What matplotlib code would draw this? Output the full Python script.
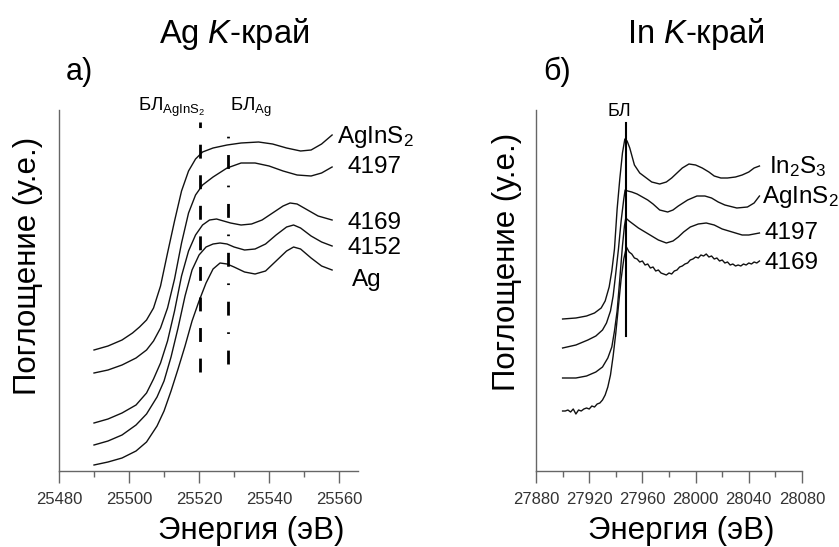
import numpy as np
import matplotlib
matplotlib.use("Agg")
import matplotlib.pyplot as plt

plt.rcParams["font.family"] = ["Liberation Sans", "DejaVu Sans"]
plt.rcParams["mathtext.fontset"] = "custom"
plt.rcParams["mathtext.rm"] = "Liberation Sans"
plt.rcParams["mathtext.it"] = "Liberation Sans:italic"
plt.rcParams["mathtext.bf"] = "Liberation Sans:bold"

# --- Ag K-edge (panel a), absorption in arbitrary units, curves offset ---
ag_agins2_x = [25490, 25494, 25498, 25501, 25503, 25505, 25507, 25509, 25511, 25513, 25515, 25517,
               25519, 25521, 25524, 25528, 25532, 25537, 25541, 25545, 25549, 25552, 25555, 25558]
ag_agins2_y = [121, 125, 131, 138, 144, 151, 163, 185, 218, 250, 280, 300,
               312, 319, 323, 326, 328, 329, 327, 323, 320, 321, 327, 336]

ag_4197_x = [25490, 25494, 25498, 25502, 25505, 25507, 25509, 25511, 25513, 25515, 25517, 25519,
             25521, 25524, 25528, 25532, 25536, 25540, 25544, 25548, 25552, 25555, 25558]
ag_4197_y = [98, 101, 106, 113, 121, 130, 143, 163, 192, 228, 258, 276,
             286, 294, 303, 308, 308, 305, 300, 296, 295, 298, 304]

ag_4169_x = [25490, 25494, 25498, 25502, 25505, 25507, 25509, 25511, 25513, 25515, 25517, 25519,
             25521, 25523, 25525, 25527, 25529, 25532, 25535, 25538, 25541, 25544, 25546, 25548,
             25551, 25554, 25558]
ag_4169_y = [48, 52, 58, 66, 78, 92, 108, 130, 160, 195, 220, 236,
             246, 251, 252, 250, 248, 246, 247, 251, 258, 265, 268, 267,
             261, 255, 251]

ag_4152_x = [25490, 25494, 25498, 25502, 25505, 25508, 25510, 25512, 25514, 25516, 25518, 25520,
             25522, 25524, 25526, 25528, 25530, 25533, 25536, 25539, 25542, 25545, 25547, 25549,
             25552, 25555, 25558]
ag_4152_y = [26, 30, 36, 46, 57, 74, 90, 114, 143, 175, 201, 216,
             224, 227, 228, 227, 224, 221, 222, 227, 236, 244, 246, 243,
             235, 229, 225]

ag_ag_x = [25490, 25494, 25498, 25502, 25505, 25508, 25510, 25512, 25514, 25516, 25518, 25520,
           25522, 25524, 25526, 25528, 25530, 25533, 25536, 25539, 25542, 25545, 25547, 25549,
           25552, 25555, 25558]
ag_ag_y = [6, 9, 13, 20, 29, 45, 60, 80, 102, 125, 150, 170,
           188, 202, 208, 207, 204, 199, 197, 200, 210, 220, 224, 222,
           213, 205, 201]

ag_curves = [
    (ag_agins2_x, ag_agins2_y, "AgInS$_2$"),
    (ag_4197_x, ag_4197_y, "4197"),
    (ag_4169_x, ag_4169_y, "4169"),
    (ag_4152_x, ag_4152_y, "4152"),
    (ag_ag_x, ag_ag_y, "Ag"),
]
ag_label_pos = [(25559.5, 334), (25562.3, 304), (25562.3, 248), (25562.3, 223), (25563.7, 191)]
ag_wl_agins2 = 25520.3
ag_wl_ag = 25528.3

# --- In K-edge (panel b) ---
in_in2s3_x = [27900, 27910, 27918, 27924, 27929, 27932, 27935, 27937, 27939, 27941, 27943, 27945,
              27946.8, 27948.5, 27950.5, 27954, 27958, 27962, 27967, 27973, 27978, 27982, 27986,
              27990, 27995, 28000, 28005, 28010, 28014, 28019, 28024, 28030, 28035, 28040, 28044,
              28048]
in_in2s3_y = [152, 153, 155, 158, 163, 170, 184, 200, 222, 262, 292, 318,
              332, 330, 323, 306, 298, 294, 289, 287, 289, 293, 298,
              303, 307, 306, 303, 299, 295, 293, 293, 294, 296, 299, 303,
              305]

in_agins2_x = [27900, 27910, 27919, 27925, 27930, 27933, 27936, 27938, 27940, 27942, 27944, 27946,
               27947, 27949, 27952, 27956, 27960, 27964, 27968, 27973, 27979, 27983, 27987, 27994,
               28001, 28007, 28012, 28017, 28022, 28031, 28039, 28044, 28048]
in_agins2_y = [123, 126, 131, 135, 141, 148, 160, 175, 198, 222, 250, 272,
               281, 280, 279, 277, 274, 271, 267, 261, 259, 261, 265, 271,
               275, 275, 273, 269, 266, 263, 264, 268, 275]

in_4197_x = [27900, 27910, 27918, 27925, 27930, 27934, 27937, 27939, 27941, 27943, 27945, 27946.5,
             27947.5, 27950, 27953, 27957, 27962, 27967, 27972, 27978, 27983, 27987, 27991, 27996,
             28002, 28008, 28014, 28020, 28025, 28030, 28035, 28040, 28044, 28048]
in_4197_y = [93, 93, 95, 99, 104, 113, 124, 140, 160, 192, 225, 245,
             253, 250, 247, 243, 239, 235, 231, 228, 230, 234, 239, 244,
             247, 248, 246, 242, 240, 238, 236, 236, 237, 238]

in_4169_x = list(range(27900, 28049, 2))
in_4169_y = [60, 60, 61, 59, 62, 57, 61, 60, 62, 63, 62, 65, 64, 67, 68, 71, 76, 84, 96, 115,
             138, 165, 192, 212, 224, 219, 217, 213, 212, 209, 210, 206, 207, 203, 204, 200, 201,
             198, 197, 196, 198, 197, 200, 201, 204, 205, 207, 208, 211, 212, 214, 213, 216, 215,
             217, 214, 215, 212, 213, 210, 211, 208, 209, 206, 207, 205, 206, 205, 207, 206, 208,
             207, 209, 208, 210]

in_curves = [
    (in_in2s3_x, in_in2s3_y, "In$_2$S$_3$"),
    (in_agins2_x, in_agins2_y, "AgInS$_2$"),
    (in_4197_x, in_4197_y, "4197"),
    (in_4169_x, in_4169_y, "4169"),
]
in_label_pos = [(28055.5, 304), (28050, 274), (28051.8, 238), (28051.8, 208)]
in_wl = 27947.5

W, H = 839, 547


def px(x, y):
    return x / W, 1 - y / H


def style_axes(ax, xmin, xmax, major, minor):
    ax.set_xlim(xmin, xmax)
    ax.set_ylim(0, 361)
    for s in ["top", "right"]:
        ax.spines[s].set_visible(False)
    for s in ["left", "bottom"]:
        ax.spines[s].set_color("#666666")
        ax.spines[s].set_linewidth(1.0)
    ax.set_yticks([])
    ax.set_xticks(np.arange(xmin, xmax + 1, major))
    ax.set_xticks(np.arange(xmin, xmax + 1, minor), minor=True)
    ax.tick_params(axis="x", which="major", length=8.5, width=1, color="#666666",
                   labelsize=12, labelcolor="#333333", pad=6.5)
    ax.tick_params(axis="x", which="minor", length=4.3, width=1, color="#666666")
    ax.patch.set_alpha(0)


fig = plt.figure(figsize=(W / 100, H / 100), dpi=100)
ax1 = fig.add_axes([59 / W, 1 - 471 / H, (358 - 59) / W, (471 - 110) / H])
ax2 = fig.add_axes([536 / W, 1 - 471 / H, (802 - 536) / W, (471 - 110) / H])

# panel a
style_axes(ax1, 25480, 25565.4, 20, 10)
ax1.set_xticks([25480, 25500, 25520, 25540, 25560])
for (x, y, lab), (lx, ly) in zip(ag_curves, ag_label_pos):
    ax1.plot(x, y, color="#111111", lw=1.0)
    ax1.text(lx, ly, lab, fontsize=17.5, ha="left", va="center", clip_on=False)

ax1.plot([ag_wl_agins2, ag_wl_agins2], [99, 349], color="black", lw=2.0,
         dashes=(5, 6), clip_on=False)
ax1.plot([ag_wl_ag, ag_wl_ag], [107, 349], color="black", lw=2.0,
         dashes=(5, 6, 0.6, 6), clip_on=False)
ax1.text(ag_wl_agins2 + 1.5, 364, r"БЛ$_{\mathrm{AgInS}_2}$", fontsize=13.5,
         ha="right", va="center", clip_on=False)
ax1.text(ag_wl_ag + 0.5, 364, r"БЛ$_{\mathrm{Ag}}$", fontsize=13.5,
         ha="left", va="center", clip_on=False)

# panel b
style_axes(ax2, 27880, 28080, 40, 20)
for (x, y, lab), (lx, ly) in zip(in_curves, in_label_pos):
    ax2.plot(x, y, color="#111111", lw=1.0)
    ax2.text(lx, ly, lab, fontsize=17.5, ha="left", va="center", clip_on=False)
ax2.plot([in_wl, in_wl], [135, 348], color="black", lw=1.5, clip_on=False)
ax2.text(in_wl - 4.5, 360, "БЛ", fontsize=13, ha="center", va="center", clip_on=False)

# titles, panel letters, axis labels
fig.text(*px(234, 34), r"Ag $\mathit{K}$-край", fontsize=23.5, ha="center", va="center")
fig.text(*px(696, 34), r"In $\mathit{K}$-край", fontsize=23.5, ha="center", va="center")
fig.text(*px(79, 72), "а)", fontsize=22, ha="center", va="center")
fig.text(*px(557, 72), "б)", fontsize=22, ha="center", va="center")
fig.text(*px(251, 531), "Энергия (эВ)", fontsize=22.5, ha="center", va="center")
fig.text(*px(681, 531), "Энергия (эВ)", fontsize=22.5, ha="center", va="center")
fig.text(*px(28, 266), "Поглощение (у.е.)", fontsize=22.5, ha="center", va="center",
         rotation=90)
fig.text(*px(507, 262), "Поглощение (у.е.)", fontsize=22.5, ha="center", va="center",
         rotation=90)

fig.savefig("out.png", dpi=100)
